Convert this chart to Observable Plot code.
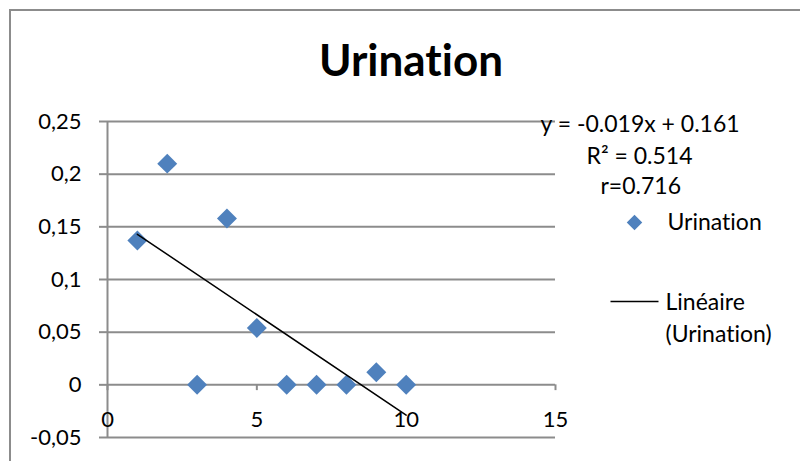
<!DOCTYPE html>
<html>
<head>
<meta charset="utf-8">
<script src="https://cdn.jsdelivr.net/npm/d3@7"></script>
<script src="https://cdn.jsdelivr.net/npm/@observablehq/plot@0.6"></script>
<style>
  html, body { margin: 0; padding: 0; background: white; }
  #wrap { position: relative; width: 800px; height: 461px; overflow: hidden; }
  #wrap svg text { font-variant-ligatures: none; font-feature-settings: "liga" 0, "clig" 0; }
  #border { position: absolute; left: 9px; top: 9px; width: 1000px; height: 1000px; border: 2px solid #8c8c8c; box-sizing: border-box; pointer-events: none; }
</style>
</head>
<body>
<div id="wrap"><div id="border"></div></div>
<script>
const title = "Urination";
const seriesName = "Urination";
const xValues = [1, 2, 3, 4, 5, 6, 7, 8, 9, 10];
const yValues = [0.137, 0.21, 0, 0.158, 0.054, 0, 0, 0, 0.012, 0];
const yTicks = [-0.05, 0, 0.05, 0.1, 0.15, 0.2, 0.25];
const yTickLabels = ["-0,05", "0", "0,05", "0,1", "0,15", "0,2", "0,25"];
const xTicks = [0, 5, 10, 15];
const xTickLabels = ["0", "5", "10", "15"];
const equationLines = ["y = -0.019x + 0.161", "R² = 0.514", "r=0.716"];
const trendLabelLines = ["Linéaire", "(Urination)"];

const data = xValues.map((x, i) => ({x, y: yValues[i]}));
const grid = "#8c8c8c";
const blue = "#4F81BD";
const font = 22;
const legendFont = 23;

const lineSymbol = { draw(ctx) { ctx.moveTo(-24, 0); ctx.lineTo(24, 0); } };
const lab = (txt, dx, dy, extra = {}) =>
  Plot.text([txt], {frameAnchor: "top-left", lineAnchor: "middle", dx, dy, text: d => d, textAnchor: "start", fontSize: legendFont, ...extra});

const chart = Plot.plot({
  width: 800, height: 461,
  marginLeft: 107, marginRight: 245, marginTop: 121, marginBottom: 24,
  x: {domain: [0, 15], axis: null},
  y: {domain: [-0.05, 0.25], axis: null},
  style: {fontFamily: "Lato, 'Open Sans', sans-serif", fontSize: font + "px", background: "white", color: "black"},
  marks: [
    Plot.gridY(yTicks, {stroke: grid, strokeOpacity: 1, strokeWidth: 2}),
    Plot.axisY(yTicks, {tickSize: 8, tickPadding: 18, stroke: grid, strokeWidth: 2, fontSize: font,
      tickFormat: d => yTickLabels[yTicks.indexOf(d)], label: null}),
    Plot.ruleX([0], {y1: -0.05, y2: 0.25, stroke: grid, strokeWidth: 2}),
    Plot.ruleX(xTicks, {y1: 0, y2: -0.0055, stroke: grid, strokeWidth: 2}),
    Plot.text(xTicks, {x: d => d, y: () => 0, dy: 35, text: (d, i) => xTickLabels[i], fontSize: font}),
    Plot.dot(data, {x: "x", y: "y", symbol: "diamond2", fill: blue, r: 9}),
    Plot.linearRegressionY(data, {x: "x", y: "y", ci: 0, stroke: "black", strokeWidth: 1.5}),
    // title
    lab(title, 303.5, -59.5, {fontSize: 44, fontWeight: "bold", textAnchor: "middle"}),
    // equation labels
    lab(equationLines[0], 433, 3),
    lab(equationLines[1], 479, 35),
    lab(equationLines[2], 493, 65),
    // legend
    Plot.dot([seriesName], {frameAnchor: "top-left", dx: 527, dy: 101, symbol: "diamond2", fill: blue, r: 7}),
    lab(seriesName, 560, 101),
    Plot.dot([trendLabelLines[0]], {frameAnchor: "top-left", dx: 527, dy: 180, symbol: lineSymbol, stroke: "black", strokeWidth: 1.5, fill: "none"}),
    lab(trendLabelLines[0], 558, 181),
    lab(trendLabelLines[1], 558, 213)
  ]
});
document.getElementById("wrap").prepend(chart);
</script>
</body>
</html>
